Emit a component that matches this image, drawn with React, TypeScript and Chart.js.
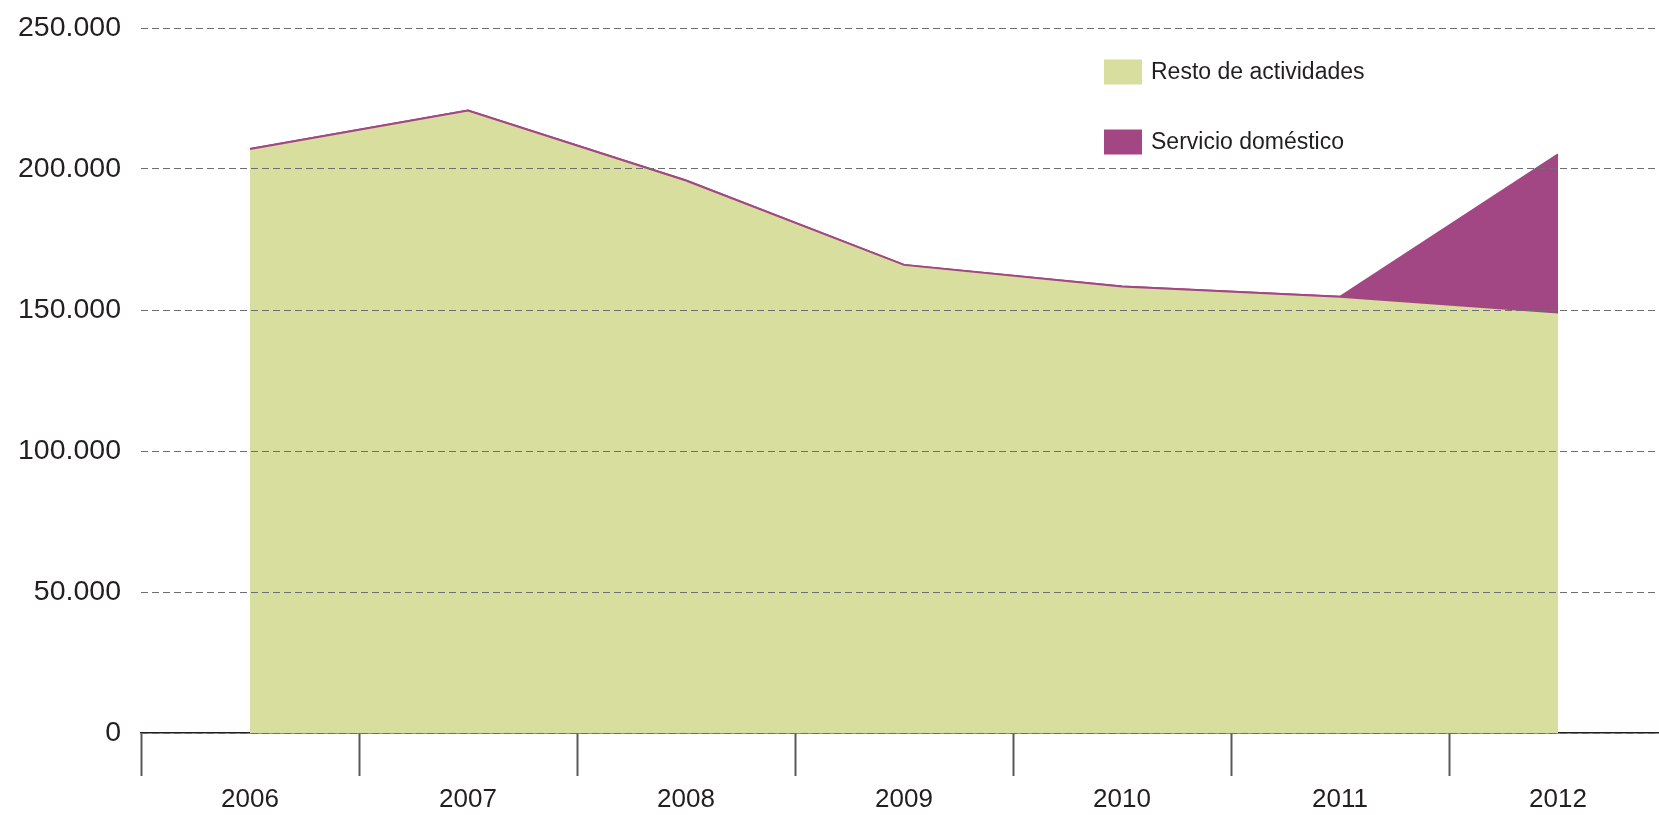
import React, { useEffect, useRef } from "react";
import { Chart, registerables } from "chart.js";

Chart.register(...registerables);

const years = ["2006", "2007", "2008", "2009", "2010", "2011", "2012"];
const restoActividades = [207100, 220700, 195900, 166000, 158300, 154700, 149100];
const servicioDomestico = [0, 0, 0, 0, 0, 0, 56100];
const yTickValues = [0, 50000, 100000, 150000, 200000, 250000];
const yTickLabels = ["0", "50.000", "100.000", "150.000", "200.000", "250.000"];

const GREEN = "#d7de9e";
const PURPLE = "#a34784";
const TEXT = "#231f20";
const FONT = "'Liberation Sans', Arial, sans-serif";

const legendPlugin = {
  id: "customLegend",
  afterDraw(chart: any) {
    const ctx = chart.ctx;
    ctx.save();
    chart.data.datasets.forEach((ds: any, i: number) => {
      const x = 1104;
      const y = 59.5 + i * 70;
      ctx.fillStyle = ds.backgroundColor;
      ctx.fillRect(x, y, 38, 25);
      ctx.fillStyle = TEXT;
      ctx.font = `23px ${FONT}`;
      ctx.textBaseline = "middle";
      ctx.textAlign = "left";
      ctx.fillText(ds.label, 1151, y + 13.5);
    });
    ctx.restore();
  },
};

export default function App() {
  const ref = useRef<HTMLCanvasElement | null>(null);
  useEffect(() => {
    if (!ref.current) return;
    const chart = new Chart(ref.current, {
      type: "line",
      data: {
        labels: years,
        datasets: [
          {
            label: "Resto de actividades",
            data: restoActividades,
            backgroundColor: GREEN,
            borderColor: PURPLE,
            borderWidth: 2,
            fill: "origin",
            pointRadius: 0,
            tension: 0,
          },
          {
            label: "Servicio doméstico",
            data: servicioDomestico,
            backgroundColor: PURPLE,
            borderColor: PURPLE,
            borderWidth: 2,
            fill: "-1",
            pointRadius: 0,
            tension: 0,
          },
        ],
      },
      options: {
        responsive: false,
        animation: false,
        layout: { padding: { top: 28, left: 0, right: 0, bottom: 0 } },
        plugins: { legend: { display: false }, tooltip: { enabled: false } },
        scales: {
          x: {
            type: "category",
            offset: true,
            grid: {
              offset: true,
              drawOnChartArea: false,
              drawTicks: true,
              tickLength: 43,
              tickWidth: 2,
              tickColor: "#58595b",
            },
            border: { display: true, color: TEXT, width: 1.5 },
            ticks: {
              font: { size: 26, family: FONT },
              color: TEXT,
              padding: 8,
              maxRotation: 0,
              autoSkip: false,
            },
            afterFit(scale: any) {
              scale.height = 82;
              scale.paddingLeft = 0;
              scale.paddingRight = 0;
            },
          },
          y: {
            stacked: true,
            min: 0,
            max: 250000,
            afterBuildTicks(scale: any) {
              scale.ticks = yTickValues.map((v) => ({ value: v }));
            },
            ticks: {
              font: { size: 28.5, family: FONT },
              color: TEXT,
              padding: 20,
              callback: (v: any) => {
                const i = yTickValues.indexOf(Number(v));
                return i >= 0 ? yTickLabels[i] : "";
              },
            },
            grid: { color: "#6d6e71", lineWidth: 1, drawTicks: false, z: 1 },
            border: { display: false, dash: [7, 4] },
            afterFit(scale: any) {
              scale.width = 141;
              scale.paddingTop = 0;
              scale.paddingBottom = 0;
            },
          },
        },
      },
      plugins: [legendPlugin],
    });
    return () => chart.destroy();
  }, []);
  return (
    <div style={{ position: "fixed", left: 0, top: 0, width: "100vw", height: "100vh", overflow: "hidden", background: "#fff" }}>
      <canvas ref={ref} width={1667} height={815} style={{ display: "block" }} />
    </div>
  );
}
